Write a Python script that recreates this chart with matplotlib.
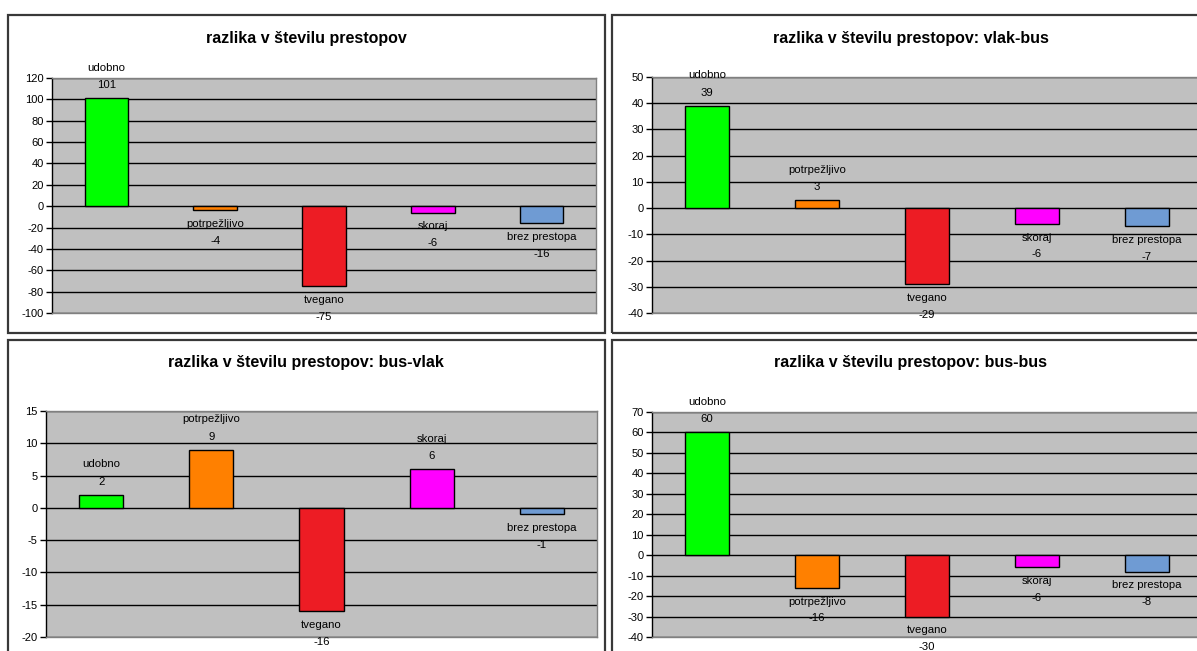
import matplotlib
matplotlib.use("Agg")
import matplotlib.pyplot as plt
from matplotlib.patches import Rectangle

plt.rcParams["font.family"] = ["Liberation Sans", "DejaVu Sans"]
plt.rcParams["axes.unicode_minus"] = False

categories = ["udobno", "potrpežljivo", "tvegano", "skoraj", "brez prestopa"]
colors = ["#00FF00", "#FF8000", "#ED1C24", "#FF00FF", "#6F9BD3"]

titles = [
    "razlika v številu prestopov",
    "razlika v številu prestopov: vlak-bus",
    "razlika v številu prestopov: bus-vlak",
    "razlika v številu prestopov: bus-bus",
]
values_all = [101, -4, -75, -6, -16]
values_vlak_bus = [39, 3, -29, -6, -7]
values_bus_vlak = [2, 9, -16, 6, -1]
values_bus_bus = [60, -16, -30, -6, -8]

ticks_all = list(range(-100, 121, 20))
ticks_vlak_bus = list(range(-40, 51, 10))
ticks_bus_vlak = list(range(-20, 16, 5))
ticks_bus_bus = list(range(-40, 71, 10))

W, H = 1197, 651
fig = plt.figure(figsize=(W / 100, H / 100), dpi=100)
fig.patch.set_facecolor("white")

# panel frames (pixels: left, top, right, bottom)
frames = [(7.5, 15, 605, 332.5), (611.5, 15, 1210, 332.5),
          (7.5, 340, 605, 660), (611.5, 340, 1210, 660)]
# plot areas (pixels: left, top, right, bottom)
plots = [(52, 78, 596, 313), (652, 77, 1202, 313),
         (46, 411, 597, 637), (652, 412, 1202, 637)]
title_y = [38, 38, 362, 362]

panels = [
    (values_all, ticks_all),
    (values_vlak_bus, ticks_vlak_bus),
    (values_bus_vlak, ticks_bus_vlak),
    (values_bus_bus, ticks_bus_bus),
]

LABEL_SIZE = 8.2


def fx(px):
    return px / W


def fy(py):
    return 1 - py / H


for i, ((vals, ticks), fr, pl) in enumerate(zip(panels, frames, plots)):
    l, t, r, b = fr
    fig.patches.append(Rectangle((fx(l), fy(b)), fx(r) - fx(l), fy(t) - fy(b),
                                 transform=fig.transFigure, fill=False,
                                 edgecolor="#383838", linewidth=1.6, zorder=0))
    fig.text(fx((l + r) / 2), fy(title_y[i]), titles[i], ha="center", va="center",
             fontsize=11.5, fontweight="bold")

    l, t, r, b = pl
    ax = fig.add_axes([fx(l), fy(b), fx(r) - fx(l), fy(t) - fy(b)])
    ax.set_facecolor("#C0C0C0")
    x = list(range(len(categories)))
    ax.bar(x, vals, width=0.4, color=colors, edgecolor="black", linewidth=1, zorder=3)
    ax.set_xlim(-0.5, len(categories) - 0.5)
    ax.set_ylim(ticks[0], ticks[-1])
    ax.set_yticks(ticks)
    ax.set_yticklabels([str(v) for v in ticks])
    ax.yaxis.grid(True, color="black", linewidth=1, zorder=1)
    ax.set_axisbelow(True)
    ax.set_xticks([])
    ax.tick_params(axis="y", direction="out", length=4, width=1, color="black",
                   labelsize=8, pad=2)
    for side in ("top", "right", "bottom"):
        ax.spines[side].set_color("#808080")
        ax.spines[side].set_linewidth(1)
    ax.spines["left"].set_color("black")
    ax.spines["left"].set_linewidth(1)

    for xi, (name, v) in enumerate(zip(categories, vals)):
        if v >= 0:
            ax.annotate(str(v), (xi, v), xytext=(0, 9.5), textcoords="offset points",
                        ha="center", va="center", fontsize=LABEL_SIZE, zorder=5,
                        annotation_clip=False)
            ax.annotate(name, (xi, v), xytext=(0, 22), textcoords="offset points",
                        ha="center", va="center", fontsize=LABEL_SIZE, zorder=5,
                        annotation_clip=False)
        else:
            ax.annotate(name, (xi, v), xytext=(0, -10), textcoords="offset points",
                        ha="center", va="center", fontsize=LABEL_SIZE, zorder=5,
                        annotation_clip=False)
            ax.annotate(str(v), (xi, v), xytext=(0, -22), textcoords="offset points",
                        ha="center", va="center", fontsize=LABEL_SIZE, zorder=5,
                        annotation_clip=False)

fig.savefig("out.png", dpi=100, facecolor="white")
